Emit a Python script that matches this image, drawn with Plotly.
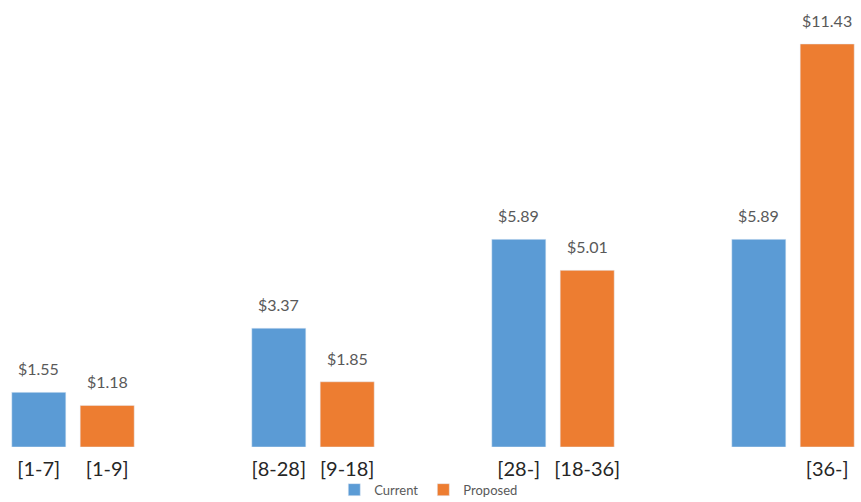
import plotly.graph_objects as go

# Tier groups and the price for each pricing scheme
groups = [0, 1, 2, 3]
current = [1.55, 3.37, 5.89, 5.89]
proposed = [1.18, 1.85, 5.01, 11.43]
current_ranges = ["[1-7]", "[8-28]", "[28-]", ""]
proposed_ranges = ["[1-9]", "[9-18]", "[18-36]", "[36-]"]

BLUE = "#5B9BD5"
ORANGE = "#ED7D31"
FONT = "Lato"

BARGAP = 0.43
BARGROUPGAP = 0.21
# centre of each bar relative to its group, given the gaps above
half_slot = (1 - BARGAP) / 4

fig = go.Figure()
fig.add_trace(go.Bar(x=groups, y=current, name="Current", marker_color=BLUE))
fig.add_trace(go.Bar(x=groups, y=proposed, name="Proposed", marker_color=ORANGE))

tickvals, ticktext = [], []
for g, cl, pl in zip(groups, current_ranges, proposed_ranges):
    if cl:
        tickvals.append(g - half_slot)
        ticktext.append(cl)
    tickvals.append(g + half_slot)
    ticktext.append(pl)

annotations = []
for g, c, p in zip(groups, current, proposed):
    for xpos, val in ((g - half_slot, c), (g + half_slot, p)):
        annotations.append(dict(
            x=xpos, y=val, xref="x", yref="y",
            text=f"${val:.2f}", showarrow=False,
            yanchor="bottom", yshift=12,
            font=dict(family=FONT, size=16, color="#595959"),
        ))

fig.update_layout(
    width=861, height=502,
    margin=dict(l=0, r=0, t=0, b=55, autoexpand=False),
    paper_bgcolor="white", plot_bgcolor="white",
    barmode="group", bargap=BARGAP, bargroupgap=BARGROUPGAP,
    annotations=annotations,
    showlegend=True,
    legend=dict(
        orientation="h", x=0.498, xanchor="center",
        y=-0.062, yanchor="top",
        bgcolor="rgba(0,0,0,0)",
        font=dict(family=FONT, size=13, color="#595959"),
        itemwidth=30, traceorder="normal",
    ),
    xaxis=dict(
        range=[-73 / 240, (861 - 73) / 240],
        tickmode="array", tickvals=tickvals, ticktext=ticktext,
        tickfont=dict(family=FONT, size=20, color="#262626"),
        ticklabelstandoff=8,
        showgrid=False, zeroline=False, showline=False, ticks="",
        fixedrange=True, automargin=False,
    ),
    yaxis=dict(
        range=[0, 447 / 35.26], visible=False, fixedrange=True,
    ),
)

fig.write_html("out.html")
